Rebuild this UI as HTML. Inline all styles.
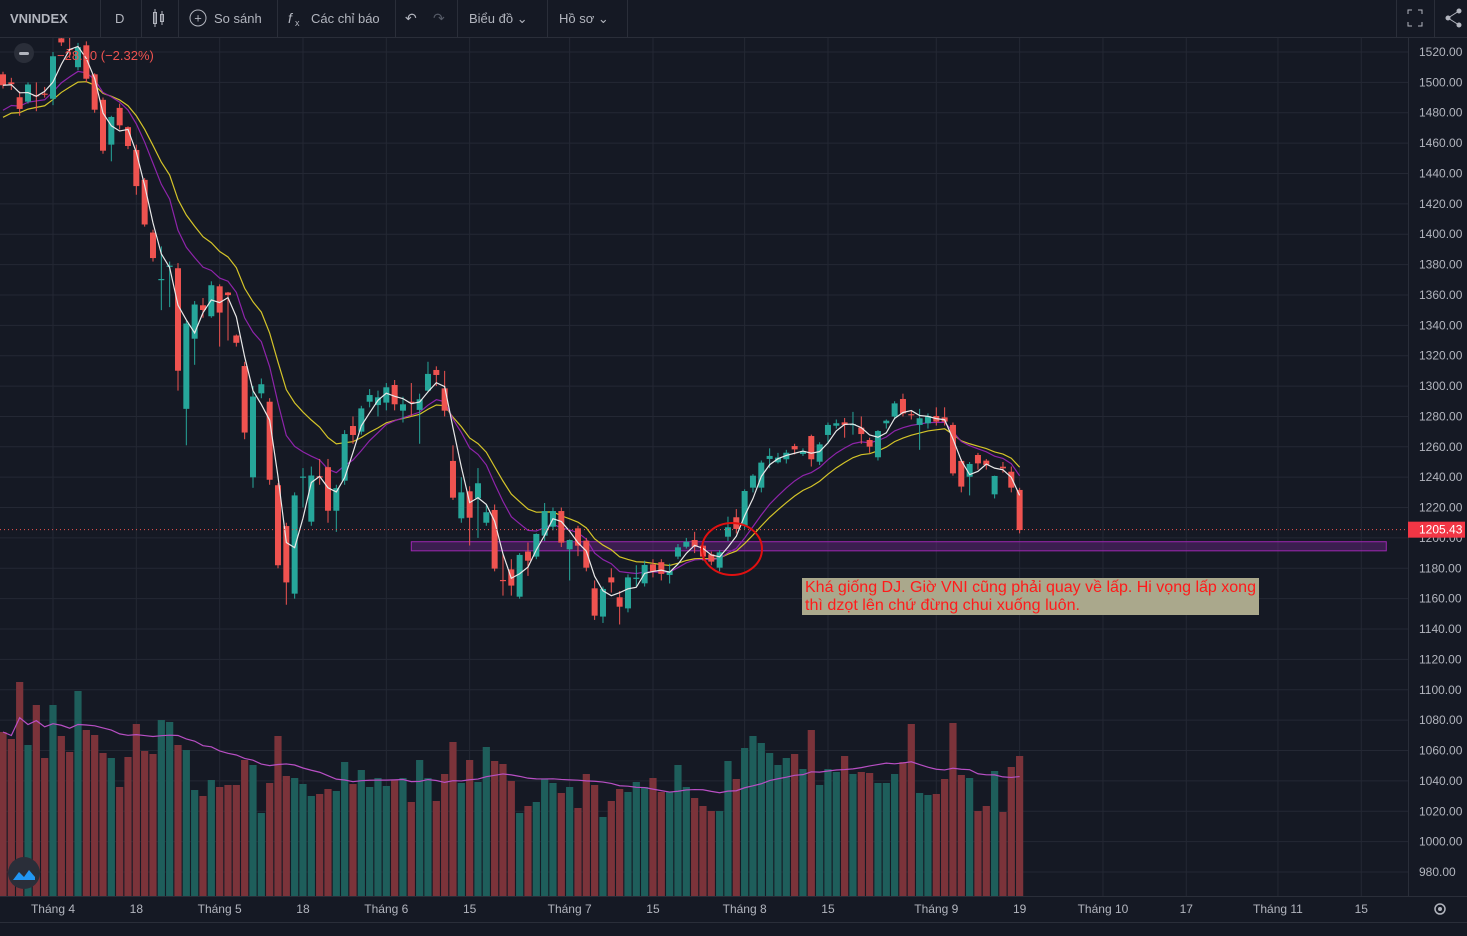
<!DOCTYPE html>
<html><head><meta charset="utf-8">
<style>
html,body{margin:0;padding:0;background:#151924;overflow:hidden}
body{width:1467px;height:936px;position:relative;font-family:"Liberation Sans","Noto Sans CJK SC",sans-serif}
svg{position:absolute;left:0;top:0}
</style></head>
<body>
<svg id="chart" width="1467" height="936" xmlns="http://www.w3.org/2000/svg"></svg>
<script>
const opens=[1505.3,1500,1490.2,1487.3,1491.6,1492.6,1489.2,1529,1522,1510,
1524.4,1505.3,1488.5,1459,1483.2,1470.5,1455.5,1435.8,1401.1,1370,
1378.8,1377.6,1285,1331.2,1353.2,1346,1365.7,1361.6,1333.3,1313.2,
1239.9,1295.2,1289.7,1234.7,1207.8,1163.3,1239.9,1210.7,1240.6,1246.6,
1217.9,1237.7,1273.7,1270,1289.7,1287.5,1289.1,1300.7,1283.8,1289.7,
1284.3,1297,1310.6,1298.5,1250.7,1212.9,1230.7,1226.1,1210,1218.4,
1172.3,1179.3,1161.3,1191,1187.7,1201.5,1207.4,1217.7,1192.5,1206.3,
1198.2,1166.8,1148.2,1174,1160.9,1153.6,1173.2,1170.1,1182.6,1184,
1175.6,1187.7,1194.2,1198.6,1194.9,1189.2,1180.4,1200.8,1213.6,1208.1,
1233.1,1233.1,1252,1249.8,1251.8,1260.5,1255.3,1267.1,1250.2,1267.8,
1273.9,1276.1,1274.8,1272.6,1264.5,1253.1,1275.5,1279.9,1291.5,1281.5,
1274.4,1275.5,1280.3,1279.4,1274.4,1250.7,1240.3,1254.6,1250.9,1228.7,
1246.9,1243.6,1231.6];
const closes=[1498.1,1498.8,1482.5,1498.6,1491.4,1492.1,1517.2,1526.3,1521.5,1523.2,
1502.4,1482,1455,1477.2,1471.7,1458.1,1431.7,1406.4,1384.3,1370.5,
1379.3,1310.1,1341.2,1353.7,1350.1,1366.4,1348.4,1359.9,1328.5,1269.4,
1293.1,1301.2,1238.3,1182,1170.7,1228,1240.4,1241.1,1240.1,1217.9,
1232.8,1268.4,1267.8,1285.3,1294.1,1292.6,1299.2,1288,1288,1289.2,
1291.3,1308,1307.3,1283.8,1226.5,1230,1213.3,1236,1216.9,1179.8,
1171.8,1168.6,1188.8,1185,1202.6,1217.7,1217.7,1196.9,1198.6,1194.9,
1180.4,1148.8,1166.4,1170.7,1154.7,1174,1173.8,1182.2,1177.8,1176.3,
1178.2,1193.8,1197.5,1194.2,1187.7,1184.4,1190.5,1207,1205.9,1230.9,
1241,1249.6,1254,1252.9,1256.1,1258.3,1257.2,1251.8,1261.6,1274.4,
1275.5,1274.4,1275,1268.4,1260.1,1270.4,1277.2,1288.6,1282,1281,
1278.8,1280.3,1276.6,1276.6,1242.5,1233.8,1248.7,1249.1,1248,1240.8,
1245.8,1233.1,1205.2];
const highs=[1507,1503,1494,1500,1500,1497,1520,1531,1530,1526,
1527,1506,1490,1478,1486,1471,1459,1437,1403,1392,
1382,1381,1343,1356,1358,1369,1367,1362,1334,1316,
1300,1305,1292,1236,1210,1230,1246,1247,1252,1252,
1235,1271,1280,1287,1298,1297,1302,1304,1293,1302,
1295,1316,1313,1310,1261,1240,1234,1246,1222,1222,
1190,1186,1190,1197,1203,1223,1220,1220,1199,1208,
1200,1172,1168,1180,1165,1176,1182,1185,1186,1186,
1183,1196,1200,1204,1198,1191,1192,1214,1219,1232,
1242,1251,1259,1256,1258,1262,1259,1268,1263,1276,
1278,1279,1283,1280,1266,1271,1278,1290,1295,1284,
1285,1282,1286,1286,1276,1252,1250,1256,1252,1241,
1250,1247,1233];
const lows=[1496,1495,1478,1486,1481,1490,1485,1524,1516,1508,
1500,1480,1453,1448,1469,1456,1426,1405,1382,1350,
1352,1297,1261,1314,1345,1345,1326,1330,1326,1265,
1233,1292,1235,1180,1156,1160,1220,1208,1235,1210,
1204,1235,1262,1268,1286,1280,1284,1284,1276,1280,
1262,1296,1300,1280,1225,1210,1195,1200,1208,1178,
1162,1162,1160,1175,1186,1198,1205,1194,1172,1188,
1178,1146,1144,1164,1143,1151,1168,1168,1174,1172,
1170,1186,1193,1190,1185,1182,1178,1198,1203,1206,
1230,1230,1246,1249,1249,1255,1254,1247,1248,1262,
1272,1266,1268,1262,1256,1251,1272,1278,1280,1278,
1258,1272,1274,1274,1241,1230,1228,1245,1245,1226,
1243,1230,1203];
const volumes=[164,157,214,151,191,138,191,160,144,205,
166,161,143,138,109,139,172,145,142,176,
174,151,146,106,100,116,109,111,111,136,
131,83,113,160,120,118,112,100,102,107,
105,134,112,126,109,118,110,116,118,94,
136,118,95,122,154,113,136,114,149,135,
132,115,83,90,94,117,113,103,109,88,
122,111,79,95,107,104,114,109,118,104,
104,131,109,98,90,85,85,135,117,148,
160,153,143,131,138,142,127,166,111,127,
124,140,122,124,123,113,113,122,134,172,
103,101,102,117,173,121,118,85,90,125,
84,129,140];
const priceTicks=[1520,1500,1480,1460,1440,1420,1400,1380,1360,1340,1320,1300,1280,1260,1240,1220,1200,1180,1160,1140,1120,1100,1080,1060,1040,1020,1000,980];
const timeLabels=["Tháng 4","18","Tháng 5","18","Tháng 6","15","Tháng 7","15","Tháng 8","15","Tháng 9","19","Tháng 10","17","Tháng 11","15"];
const timeLabelIdx=[6,16,26,36,46,56,68,78,89,99,112,122,132,142,153,163];
const lastPrice=1205.43;
const zoneTop=1197.5, zoneBottom=1191.5, zoneStartIdx=49, zoneEndIdx=166;
const fastEmaSeed=1478, slowEmaSeed=1474;

const NS="http://www.w3.org/2000/svg";
const svg=document.getElementById('chart');
const PW=1408;
const yP=p=>52+(1520-p)*1.5185;
const xI=i=>3+i*8.333;
const yV=v=>896-v;
function el(tag,attrs,parent){const e=document.createElementNS(NS,tag);for(const k in attrs)e.setAttribute(k,attrs[k]);(parent||svg).appendChild(e);return e;}

const grid=el('g',{});


priceTicks.forEach(p=>{el('line',{x1:0,x2:PW,y1:yP(p),y2:yP(p),stroke:'#242834','stroke-width':1},grid);});
timeLabelIdx.forEach(i=>{el('line',{x1:xI(i),x2:xI(i),y1:38,y2:896,stroke:'#242834','stroke-width':1},grid);});

const vg=el('g',{});


volumes.forEach((v,i)=>{
  const up=closes[i]>=opens[i];
  const r=el('rect',{x:xI(i)-3.6,y:yV(v),width:7.2,height:v,fill:up?'#1e5e5b':'#7b333a'},vg);
  
  
});
let vma=[];
volumes.forEach((v,i)=>{const s=volumes.slice(Math.max(0,i-19),i+1);vma.push(s.reduce((a,b)=>a+b,0)/s.length);});
const vl=el('polyline',{points:vma.map((v,i)=>xI(i)+','+yV(v)).join(' '),fill:'none',stroke:'#b84fc4','stroke-width':1.2});



const zone=el('rect',{x:xI(zoneStartIdx),y:yP(zoneTop),width:xI(zoneEndIdx)-xI(zoneStartIdx),height:yP(zoneBottom)-yP(zoneTop),fill:'rgba(120,40,150,0.38)',stroke:'#9c27b0','stroke-width':1});



function sma(arr,n){return arr.map((v,i)=>{const s=arr.slice(Math.max(0,i-n+1),i+1);return s.reduce((a,b)=>a+b,0)/s.length;});}
function ema(arr,n,seed){let e=seed;const k=2/(n+1);return arr.map(v=>(e=e+(v-e)*k));}
function line(vals,color,name){const l=el('polyline',{points:vals.map((v,i)=>xI(i)+','+yP(v)).join(' '),fill:'none',stroke:color,'stroke-width':1.2});}
line(ema(closes,15,slowEmaSeed),'#d4c429','ma-slow-line');
line(ema(closes,10,fastEmaSeed),'#8e24aa','ma-medium-line');

const cg=el('g',{});


closes.forEach((c,i)=>{
  const o=opens[i],up=c>=o,col=up?'#26a69a':'#ef5350';
  el('line',{x1:xI(i),x2:xI(i),y1:yP(highs[i]),y2:yP(lows[i]),stroke:col,'stroke-width':1},cg);
  const t=yP(Math.max(o,c)),b=yP(Math.min(o,c));
  const r=el('rect',{x:xI(i)-3,y:t,width:6,height:Math.max(1.2,b-t),fill:col},cg);
  
  
});
line(sma(closes,3),'#e8e8e8','ma-fast-line');

const lp=el('line',{x1:0,x2:PW,y1:yP(lastPrice),y2:yP(lastPrice),stroke:'#ef5350','stroke-width':1,'stroke-dasharray':'1,3'});



const ci=el('ellipse',{cx:732,cy:549,rx:30,ry:26,fill:'none',stroke:'#e01010','stroke-width':2});



const ng=el('g',{});


el('rect',{x:802,y:578,width:457,height:37,fill:'#aaa88c'},ng);
const t1=el('text',{x:805,y:592,fill:'#ff1a1a','font-size':16,textLength:451,lengthAdjust:'spacingAndGlyphs'},ng);t1.textContent='Khá giống DJ. Giờ VNI cũng phải quay về lấp. Hi vọng lấp xong';
const t2=el('text',{x:805,y:610,fill:'#ff1a1a','font-size':16,textLength:275,lengthAdjust:'spacingAndGlyphs'},ng);t2.textContent='thì dzọt lên chứ đừng chui xuống luôn.';

const ax=el('g',{});


el('rect',{x:PW,y:38,width:59,height:858,fill:'#151924'},ax);
el('line',{x1:PW+0.5,x2:PW+0.5,y1:38,y2:922,stroke:'#2a2e39'},ax);
priceTicks.forEach(p=>{const t=el('text',{x:1419,y:yP(p)+4,fill:'#b2b5be','font-size':12},ax);t.textContent=p.toFixed(2);});
el('rect',{x:PW,y:yP(lastPrice)-8,width:57,height:16,fill:'#f23645'},ax);
const lpt=el('text',{x:1419,y:yP(lastPrice)+4,fill:'#fff','font-size':12},ax);lpt.textContent=lastPrice.toFixed(2);



const ta=el('g',{});


el('rect',{x:0,y:896,width:1467,height:40,fill:'#151924'},ta);
el('line',{x1:0,x2:1467,y1:896.5,y2:896.5,stroke:'#2a2e39'},ta);
el('line',{x1:0,x2:1467,y1:922.5,y2:922.5,stroke:'#2a2e39'},ta);
timeLabels.forEach((s,i)=>{const t=el('text',{x:xI(timeLabelIdx[i]),y:913,fill:'#b2b5be','font-size':12,'text-anchor':'middle'},ta);t.textContent=s;});
</script>

<svg width="1467" height="936" xmlns="http://www.w3.org/2000/svg" style="pointer-events:none">
  <g>
    <rect x="0" y="0" width="1467" height="37" fill="#151924"/>
    <line x1="0" y1="37.5" x2="1467" y2="37.5" stroke="#2a2e39"/>
    <g stroke="#2a2e39">
      <line x1="100.5" y1="0" x2="100.5" y2="37"/><line x1="141.5" y1="0" x2="141.5" y2="37"/>
      <line x1="178.5" y1="0" x2="178.5" y2="37"/><line x1="277.5" y1="0" x2="277.5" y2="37"/>
      <line x1="395.5" y1="0" x2="395.5" y2="37"/><line x1="457.5" y1="0" x2="457.5" y2="37"/>
      <line x1="547.5" y1="0" x2="547.5" y2="37"/><line x1="627.5" y1="0" x2="627.5" y2="37"/>
      <line x1="1396.5" y1="0" x2="1396.5" y2="37"/><line x1="1434.5" y1="0" x2="1434.5" y2="37"/>
    </g>
    <text x="10" y="23" fill="#b2b5be" font-size="13" font-weight="bold">VNINDEX</text>
    <text x="115" y="23" fill="#b2b5be" font-size="13">D</text>
    <g stroke="#b2b5be" fill="none">
      <rect x="153.5" y="12.5" width="3" height="11"/><line x1="155" y1="9" x2="155" y2="27"/>
      <rect x="160.5" y="14.5" width="3" height="7"/><line x1="162" y1="11" x2="162" y2="25"/>
    </g>
    <g>
      <circle cx="198" cy="18" r="8" fill="none" stroke="#b2b5be"/>
      <text x="198" y="22.5" fill="#b2b5be" font-size="13" text-anchor="middle">+</text>
      <text x="214" y="23" fill="#b2b5be" font-size="13">So sánh</text>
    </g>
    <g>
      <text x="288" y="23" fill="#b2b5be" font-size="14" font-style="italic">f</text>
      <text x="295" y="26" fill="#b2b5be" font-size="9">x</text>
      <text x="311" y="23" fill="#b2b5be" font-size="13">Các chỉ báo</text>
    </g>
    <text x="405" y="23" fill="#b2b5be" font-size="14">↶</text>
    <text x="433" y="23" fill="#555a66" font-size="14">↷</text>
    <text x="469" y="23" fill="#b2b5be" font-size="13">Biểu đồ ⌄</text>
    <text x="559" y="23" fill="#b2b5be" font-size="13">Hồ sơ ⌄</text>
    <g stroke="#b2b5be" fill="none">
      <path d="M1408 14v-4h4M1418 10h4v4M1422 22v4h-4M1412 26h-4v-4"/>
    </g>
    <g fill="#b2b5be" stroke="#b2b5be">
      <circle cx="1459" cy="11" r="2"/><circle cx="1448" cy="18" r="2"/><circle cx="1459" cy="25" r="2"/>
      <path d="M1459 11L1448 18L1459 25" fill="none"/>
    </g>
  </g>
  <g>
    <circle cx="24" cy="53" r="10" fill="#2a2e39"/>
    <rect x="19" y="52" width="10" height="3" rx="1.5" fill="#b2b5be"/>
    <text x="57" y="60" fill="#ef5350" font-size="13">−28.60 (−2.32%)</text>
  </g>
  <g>
    <circle cx="24" cy="873" r="16" fill="#2a2e39"/>
    <path d="M13 880 l6-8 5 5 5-7 6 7 v3 z" fill="#2196f3"/>
  </g>
  <g>
    <circle cx="1440" cy="909" r="5" fill="none" stroke="#b2b5be" stroke-width="1.5"/>
    <circle cx="1440" cy="909" r="2" fill="#b2b5be"/>
  </g>
</svg>
</body></html>
